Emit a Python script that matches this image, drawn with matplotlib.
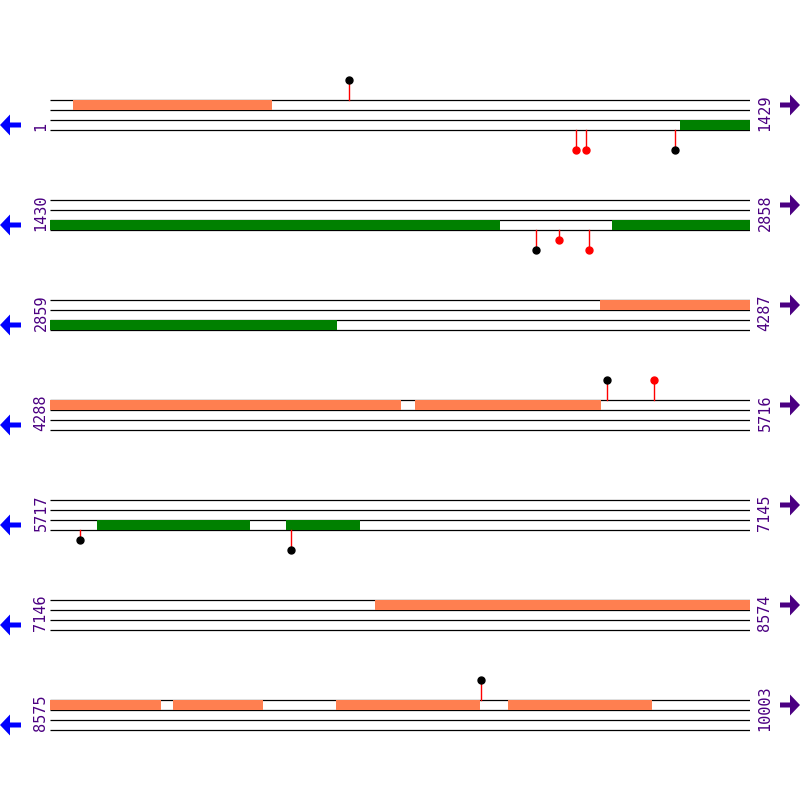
import matplotlib as mpl
mpl.use('Agg')
import matplotlib.pyplot as plt
from matplotlib.patches import FancyArrow
import matplotlib.transforms as mtransforms

# Sequence rows -----------------------------------------------------------------
row_starts = [1, 1430, 2859, 4288, 5717, 7146, 8575]
row_ends = [1429, 2858, 4287, 5716, 7145, 8574, 10003]

# features per row: (start, end) on forward strand (top track) and reverse strand (bottom track)
fwd_features = [
    [(48, 454)],
    [],
    [(3982, 4287)],
    [(4288, 5004), (5033, 5413)],
    [],
    [(7809, 8574)],
    [(8575, 8802), (8826, 9010), (9159, 9453), (9510, 9804)],
]
rev_features = [
    [(1287, 1429)],
    [(1430, 2349), (2577, 2858)],
    [(2859, 3445)],
    [],
    [(5813, 6125), (6199, 6350)],
    [],
    [],
]

# lollipops: (position, height, dot colour)
top_pops = [
    [(611, 2, 'black')],
    [],
    [],
    [(5425, 2, 'black'), (5521, 2, 'red')],
    [],
    [],
    [(9455, 2, 'black')],
]
bottom_pops = [
    [(1075, 2, 'red'), (1095, 2, 'red'), (1277, 2, 'black')],
    [(2422, 2, 'black'), (2469, 1, 'red'), (2530, 2, 'red')],
    [],
    [],
    [(5778, 1, 'black'), (6209, 2, 'black')],
    [],
    [],
]

bar_fwd = '#FF7F50'
bar_rev = '#008000'
label_col = '#4B0082'

fig = plt.figure(figsize=(8, 8), dpi=100)
W = 800.0

for r in range(len(row_starts)):
	y_top = 100 + 100 * r
	ax = fig.add_axes([50 / W, 1 - (y_top + 55) / W, 700 / W, 80 / W])
	ax.set_xlim(row_starts[r], row_starts[r] + 1429)
	ax.set_ylim(5.5, -2.5)
	ax.axis('off')

	# track lines
	for k in range(4):
		ax.plot([row_starts[r], row_starts[r] + 1429], [k, k], color='black', lw=0.9, zorder=1, solid_capstyle='butt')

	# feature bars
	if fwd_features[r]:
		ax.broken_barh([(s, e - s) for s, e in fwd_features[r]], (0, 1), facecolor=bar_fwd, zorder=2, lw=0)
	if rev_features[r]:
		ax.broken_barh([(s, e - s) for s, e in rev_features[r]], (2, 1), facecolor=bar_rev, zorder=2, lw=0)

	# lollipops
	for p, h, c in top_pops[r]:
		ax.plot([p, p], [0, -h], color='red', lw=1, zorder=3)
		ax.plot(p, -h, 'o', color=c, ms=5, zorder=4, clip_on=False)
	for p, h, c in bottom_pops[r]:
		ax.plot([p, p], [3, 3 + h], color='red', lw=1, zorder=3)
		ax.plot(p, 3 + h, 'o', color=c, ms=5, zorder=4, clip_on=False)

	# labels and arrows
	trans = mtransforms.blended_transform_factory(fig.transFigure, ax.transData)
	ax.text(41 / W, 3.1, str(row_starts[r]), transform=trans, rotation=90, ha='center', va='bottom',
	        color=label_col, fontsize=11, family='DejaVu Sans Mono', clip_on=False)
	ax.text(765 / W, 3.1, str(row_ends[r]), transform=trans, rotation=90, ha='center', va='bottom',
	        color=label_col, fontsize=11, family='DejaVu Sans Mono', clip_on=False)
	ax.add_patch(FancyArrow(21 / W, 2.5, -21 / W, 0, width=0.5, head_width=2.1, head_length=10 / W,
	                        length_includes_head=True, color='#0000FF', lw=0, transform=trans, clip_on=False))
	ax.add_patch(FancyArrow(780 / W, 0.5, 20 / W, 0, width=0.5, head_width=2.1, head_length=10 / W,
	                        length_includes_head=True, color=label_col, lw=0, transform=trans, clip_on=False))

plt.savefig('out.png', dpi=100)
